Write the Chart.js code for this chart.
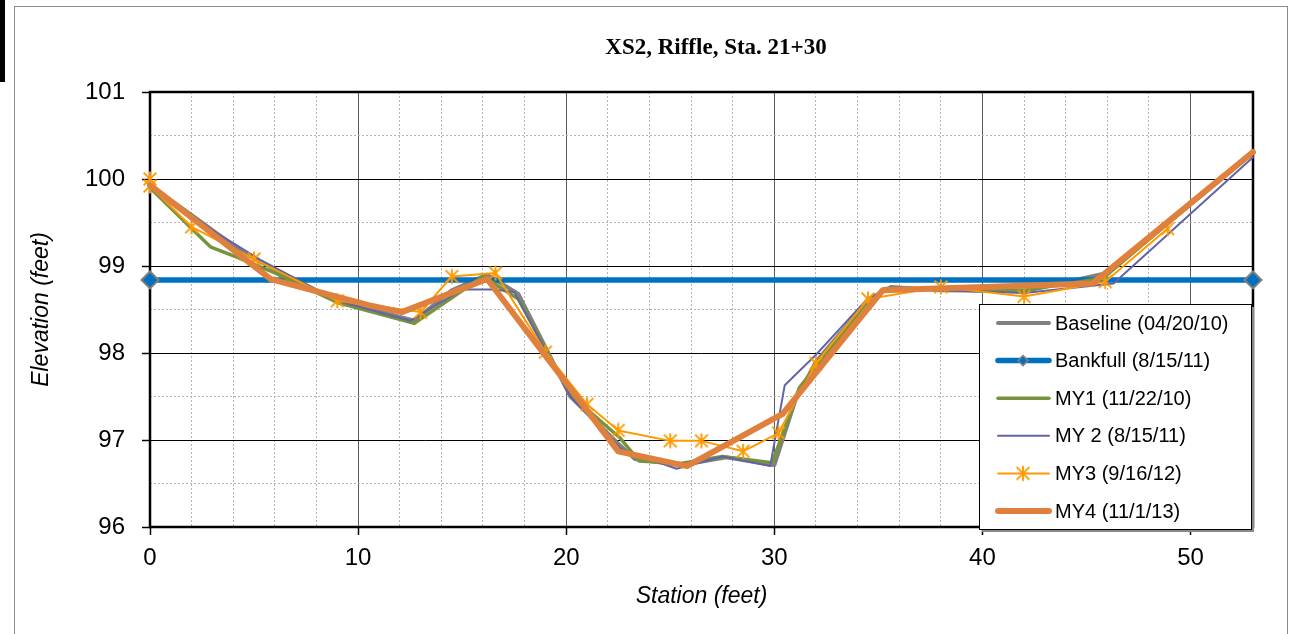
<!DOCTYPE html>
<html>
<head>
<meta charset="utf-8">
<script src="https://cdn.jsdelivr.net/npm/chart.js@4.4.1/dist/chart.umd.min.js"></script>
<style>
  html, body { margin: 0; padding: 0; background: #fff; }
  #wrap { position: relative; width: 1290px; height: 634px; overflow: hidden; }
  #frame { position: absolute; left: 14px; top: 6px; width: 1272px; height: 700px; border: 1px solid #8c8c8c; }
  #bar { position: absolute; left: 0; top: 0; width: 5px; height: 82px; background: #000; }
  canvas { position: absolute; left: 0; top: 0; }
</style>
</head>
<body>
<div id="wrap">
  <div id="frame"></div>
  <div id="bar"></div>
  <canvas id="xs" width="1290" height="634"></canvas>
</div>
<script>
// survey data (station ft, elevation ft)
const baselineStation = [0, 2.5, 4.5, 6.5, 9, 12.7, 14.5, 16.2, 17.7, 20.2, 22.4, 23.3, 25.5, 27.7, 30, 31, 32, 34.5, 35.6, 38, 42, 46, 53];
const baselineElev = [99.93, 99.5, 99.15, 98.9, 98.6, 98.37, 98.72, 98.9, 98.68, 97.5, 96.98, 96.78, 96.71, 96.8, 96.71, 97.45, 97.9, 98.6, 98.76, 98.72, 98.71, 98.92, 100.3];

const bankfullStation = [0, 53];
const bankfullElev = [98.84, 98.84];

const my1Station = [0, 2.9, 4.2, 6, 9, 12.7, 16.0, 17.7, 20.2, 22.6, 23.5, 25.5, 27.5, 29.9, 31.2, 34.4, 35.3, 42, 45.8, 53];
const my1Elev = [99.9, 99.22, 99.1, 98.92, 98.58, 98.34, 98.88, 98.62, 97.52, 97.02, 96.76, 96.73, 96.81, 96.74, 97.6, 98.57, 98.74, 98.72, 98.86, 100.32];

const my2Station = [0, 3.2, 5.3, 6.8, 9, 12.5, 15.0, 16.5, 17.5, 20.2, 22.6, 25.3, 27.5, 29.8, 30.5, 32, 34.5, 35.5, 42, 46.3, 53];
const my2Elev = [99.93, 99.38, 99.07, 98.88, 98.6, 98.37, 98.73, 98.73, 98.7, 97.5, 96.9, 96.67, 96.81, 96.7, 97.63, 97.98, 98.63, 98.74, 98.69, 98.8, 100.25];

const my3Station = [0, 0, 2.0, 5.0, 9.0, 13.0, 14.5, 16.6, 19.0, 21.0, 22.5, 25.0, 26.5, 28.5, 30.2, 32.0, 34.5, 38.0, 42.0, 45.9, 48.9];
const my3Elev = [100.0, 99.92, 99.45, 99.08, 98.6, 98.47, 98.88, 98.92, 98.01, 97.41, 97.11, 96.99, 96.99, 96.87, 97.08, 97.88, 98.62, 98.76, 98.65, 98.82, 99.43];

const my4Station = [0, 5.8, 10.5, 12.1, 16.2, 22.5, 25.8, 30.4, 35.2, 45.3, 53];
const my4Elev = [99.93, 98.85, 98.55, 98.47, 98.85, 96.87, 96.7, 97.3, 98.72, 98.8, 100.31];

const seriesNames = ['Baseline (04/20/10)', 'Bankfull (8/15/11)', 'MY1 (11/22/10)', 'MY 2 (8/15/11)', 'MY3 (9/16/12)', 'MY4 (11/1/13)'];
const chartTitle = 'XS2, Riffle, Sta. 21+30';
const xLabelEvery = 10;

function pts(xs, ys) {
  return xs.map((x, i) => ({ x: x, y: ys[i] }));
}

// excel style asterisk marker
function asterisk(color, r) {
  const c = document.createElement('canvas');
  const s = Math.ceil(r * 2 + 3);
  c.width = s; c.height = s;
  const g = c.getContext('2d');
  const m = s / 2;
  g.strokeStyle = color;
  g.lineWidth = 1.9;
  g.beginPath();
  g.moveTo(m, m - r); g.lineTo(m, m + r);
  g.moveTo(m - r * 0.85, m - r * 0.85); g.lineTo(m + r * 0.85, m + r * 0.85);
  g.moveTo(m - r * 0.85, m + r * 0.85); g.lineTo(m + r * 0.85, m - r * 0.85);
  g.stroke();
  return c;
}
const star = asterisk('#FF9900', 7.5);

const isMajorX = (c) => c.tick && Math.abs(c.tick.value % xLabelEvery) < 1e-9;
const isMajorY = (c) => c.tick && Number.isInteger(c.tick.value);

const frameAndTitle = {
  id: 'frameAndTitle',
  beforeDatasetsDraw(chart) {
    const { ctx, chartArea: a } = chart;
    ctx.save();
    ctx.strokeStyle = '#000';
    ctx.lineWidth = 2.5;
    ctx.strokeRect(a.left, a.top, a.right - a.left, a.bottom - a.top);
    ctx.restore();
  },
  afterDraw(chart) {
    const { ctx } = chart;
    ctx.save();
    ctx.font = 'bold 23px "Liberation Serif", "Times New Roman", serif';
    ctx.fillStyle = '#000';
    ctx.textAlign = 'center';
    ctx.textBaseline = 'middle';
    ctx.fillText(chartTitle, 716, 48);
    ctx.restore();
  }
};

// legend box sitting inside the plot, bottom right
const boxLegend = {
  id: 'boxLegend',
  afterDraw(chart) {
    const { ctx } = chart;
    const bx = 979, by = 304, bw = 272, bh = 225;
    ctx.save();
    ctx.fillStyle = '#8a8a8a';
    ctx.fillRect(bx + 3, by + 3, bw, bh);
    ctx.fillStyle = '#fff';
    ctx.fillRect(bx, by, bw, bh);
    ctx.strokeStyle = '#000';
    ctx.lineWidth = 1;
    ctx.strokeRect(bx + 0.5, by + 0.5, bw, bh);
    ctx.font = '20px "Liberation Sans", Arial, sans-serif';
    ctx.textBaseline = 'middle';
    ctx.textAlign = 'left';
    chart.data.datasets.forEach((ds, i) => {
      const y = 323 + i * 37.6;
      ctx.strokeStyle = ds.borderColor;
      ctx.lineWidth = ds.borderWidth;
      ctx.lineCap = 'round';
      ctx.beginPath();
      ctx.moveTo(998, y);
      ctx.lineTo(1049, y);
      ctx.stroke();
      if (ds.pointStyle === 'rectRot') {
        ctx.fillStyle = ds.pointBackgroundColor;
        ctx.strokeStyle = ds.pointBorderColor;
        ctx.lineWidth = 1.5;
        ctx.beginPath();
        ctx.moveTo(1023, y - 5); ctx.lineTo(1028, y); ctx.lineTo(1023, y + 5); ctx.lineTo(1018, y);
        ctx.closePath();
        ctx.fill(); ctx.stroke();
      } else if (ds.pointStyle === star) {
        ctx.drawImage(star, 1023 - star.width / 2, y - star.height / 2);
      }
      ctx.fillStyle = '#000';
      ctx.fillText(seriesNames[i], 1055, y + 1);
    });
    ctx.restore();
  }
};

const lineBase = { showLine: true, pointRadius: 0, pointHoverRadius: 0, borderJoinStyle: 'round', borderCapStyle: 'round', clip: false };

new Chart(document.getElementById('xs'), {
  type: 'scatter',
  data: {
    datasets: [
      Object.assign({}, lineBase, { label: seriesNames[0], data: pts(baselineStation, baselineElev), borderColor: '#808080', borderWidth: 4, order: 6 }),
      Object.assign({}, lineBase, { label: seriesNames[1], data: pts(bankfullStation, bankfullElev), borderColor: '#0070C0', borderWidth: 5.5,
        pointStyle: 'rectRot', pointRadius: 8.5, pointBackgroundColor: '#0070C0', pointBorderColor: '#7f7f7f', pointBorderWidth: 2, order: 5 }),
      Object.assign({}, lineBase, { label: seriesNames[2], data: pts(my1Station, my1Elev), borderColor: '#77933C', borderWidth: 3.5, order: 4 }),
      Object.assign({}, lineBase, { label: seriesNames[3], data: pts(my2Station, my2Elev), borderColor: '#6264A7', borderWidth: 2, order: 3 }),
      Object.assign({}, lineBase, { label: seriesNames[4], data: pts(my3Station, my3Elev), borderColor: '#FF9900', borderWidth: 2,
        pointStyle: star, pointRadius: 7, order: 2 }),
      Object.assign({}, lineBase, { label: seriesNames[5], data: pts(my4Station, my4Elev), borderColor: '#DF813C', borderWidth: 6, order: 1 })
    ]
  },
  options: {
    responsive: false,
    animation: false,
    events: [],
    layout: { padding: { left: 0, top: 92, right: 37, bottom: 0 } },
    plugins: { legend: { display: false }, title: { display: false }, tooltip: { enabled: false } },
    scales: {
      x: {
        type: 'linear',
        min: 0,
        max: 53,
        afterFit(s) { s.height = 107; },
        ticks: {
          stepSize: 2,
          autoSkip: false,
          maxRotation: 0,
          padding: 9,
          color: '#000',
          font: { family: '"Liberation Sans", Arial, sans-serif', size: 24 },
          callback: (v) => (Math.abs(v % xLabelEvery) < 1e-9 ? v : '')
        },
        grid: {
          color: (c) => (isMajorX(c) ? '#5a5a5a' : '#b4b4b4'),
          lineWidth: 1,
          tickLength: 8,
          tickWidth: 1.5,
          tickColor: (c) => (isMajorX(c) ? '#000' : 'rgba(0,0,0,0)')
        },
        border: { display: false, dash: (c) => (isMajorX(c) ? [] : [2, 2]) },
        title: {
          display: true,
          text: 'Station (feet)',
          color: '#000',
          font: { family: '"Liberation Sans", Arial, sans-serif', size: 23, style: 'italic' },
          padding: { top: 0, bottom: 24 }
        }
      },
      y: {
        type: 'linear',
        min: 96,
        max: 101,
        afterFit(s) { s.width = 150; },
        ticks: {
          stepSize: 0.5,
          padding: 17,
          color: '#000',
          font: { family: '"Liberation Sans", Arial, sans-serif', size: 24 },
          callback: (v) => (Number.isInteger(v) ? v : '')
        },
        grid: {
          color: (c) => (isMajorY(c) ? '#000' : '#b4b4b4'),
          lineWidth: 1,
          tickLength: 8,
          tickWidth: 1.5,
          tickColor: (c) => (isMajorY(c) ? '#000' : 'rgba(0,0,0,0)')
        },
        border: { display: false, dash: (c) => (isMajorY(c) ? [] : [2, 2]) },
        title: {
          display: true,
          text: 'Elevation (feet)',
          color: '#000',
          font: { family: '"Liberation Sans", Arial, sans-serif', size: 23, style: 'italic' },
          padding: { top: 28, bottom: 0 }
        }
      }
    }
  },
  plugins: [frameAndTitle, boxLegend]
});
</script>
</body>
</html>
